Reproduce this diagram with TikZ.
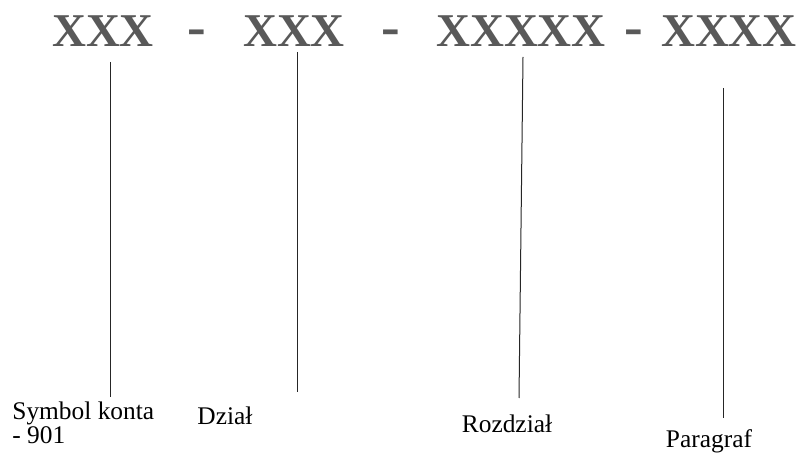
\documentclass[tikz,border=0pt]{standalone}
\usepackage{fontspec}
\setmainfont{Liberation Serif}
\begin{document}
\begin{tikzpicture}[x=0.5pt,y=-0.5pt,
    code/.style={inner sep=0pt,text=black!65,font=\fontsize{23.5}{26}\selectfont\bfseries},
    dashmark/.style={code,font=\fontsize{28}{30}\selectfont\bfseries},
    lbl/.style={inner sep=0pt,font=\fontsize{12.7}{10.4}\selectfont,align=left},
    lead/.style={line width=0.5pt,black!85}]
  \useasboundingbox (0,0) rectangle (803,459);
  % parts of the number
  \node[code] (s1) at (103,31) {XXX};
  \node[dashmark] (d1) at (197,38) {-};
  \node[code] (s2) at (294,31) {XXX};
  \node[dashmark] (d2) at (391,38) {-};
  \node[code] (s3) at (521,31) {XXXXX};
  \node[dashmark] (d3) at (634,38) {-};
  \node[code] (s4) at (729,31) {XXXX};
  % labels
  \node[lbl,anchor=north west] (l1) at (12,401) {Symbol konta\\- 901};
  \node[lbl] (l2) at (225,416) {Dział};
  \node[lbl] (l3) at (507,424) {Rozdział};
  \node[lbl] (l4) at (709,441) {Paragraf};
  % ends of the leader lines
  \coordinate (t1) at (110,62);  \coordinate (b1) at (110,397);
  \coordinate (t2) at (297,52);  \coordinate (b2) at (297,392);
  \coordinate (t3) at (523,57);  \coordinate (b3) at (519,398);
  \coordinate (t4) at (723,88);  \coordinate (b4) at (723,418);
  \draw[lead] (t1) -- (b1);
  \draw[lead] (t2) -- (b2);
  \draw[lead] (t3) -- (b3);
  \draw[lead] (t4) -- (b4);
\end{tikzpicture}
\end{document}
